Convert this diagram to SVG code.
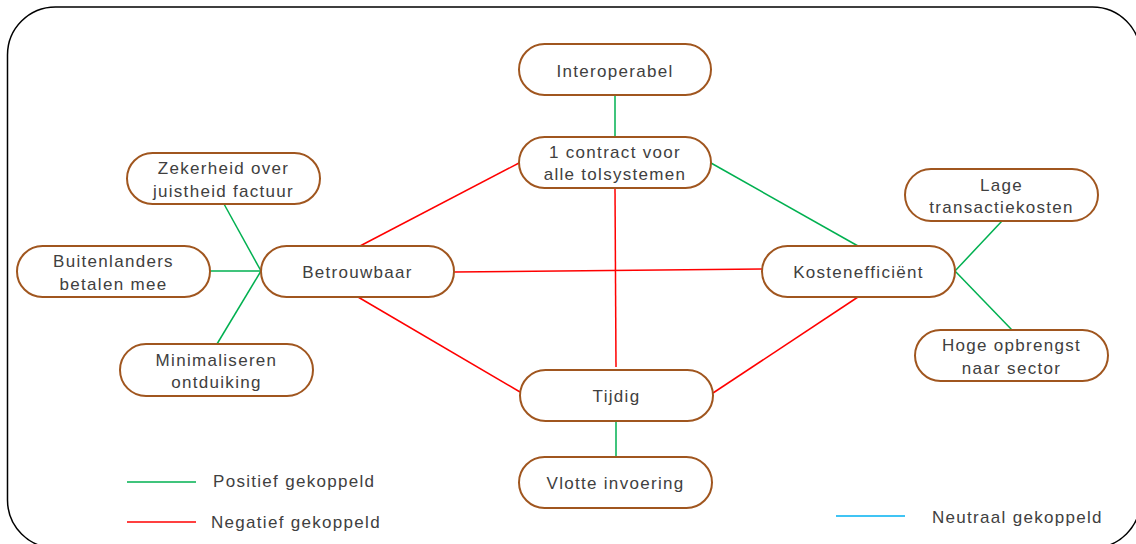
<svg xmlns="http://www.w3.org/2000/svg" width="1136" height="544" viewBox="0 0 1136 544">
<style>
.node rect{fill:#fff;stroke:#A0561F;stroke-width:2}
text{font-family:"Liberation Sans",Arial,sans-serif;font-size:17px;fill:#404040;letter-spacing:1.3px}
.c text,.node text{text-anchor:middle}
.pos{stroke:#00B050;stroke-width:1.5;fill:none}
.neg{stroke:#FF0000;stroke-width:1.5;fill:none}
.neu{stroke:#00B0F0;stroke-width:1.5;fill:none}
</style>
<rect x="7.5" y="7" width="1133" height="541" rx="48" ry="48" fill="#fff" stroke="#000" stroke-width="1.5"/>
<g id="connectors">
<line class="pos" x1="615" y1="95" x2="615" y2="137"/>
<line class="pos" x1="224" y1="204" x2="261" y2="271"/>
<line class="pos" x1="210" y1="271" x2="261" y2="271"/>
<line class="pos" x1="217" y1="344" x2="261" y2="271"/>
<line class="pos" x1="711" y1="163" x2="858" y2="246"/>
<line class="pos" x1="955" y1="271" x2="1002" y2="221"/>
<line class="pos" x1="955" y1="271" x2="1012" y2="330"/>
<line class="pos" x1="616" y1="421" x2="616" y2="457"/>
<line class="neg" x1="360" y1="246" x2="519" y2="163"/>
<line class="neg" x1="454" y1="272" x2="762" y2="269"/>
<line class="neg" x1="358" y1="297" x2="520" y2="392"/>
<line class="neg" x1="615" y1="188" x2="616" y2="367"/>
<line class="neg" x1="858" y1="297" x2="713" y2="393"/>
</g>
<g id="n-interoperabel" class="node"><rect x="519" y="44" width="192" height="51" rx="25.5"/><text x="615" y="77">Interoperabel</text></g>
<g id="n-contract" class="node"><rect x="519" y="137" width="192" height="51" rx="25.5"/><text x="615" y="158">1 contract voor</text><text x="615" y="180">alle tolsystemen</text></g>
<g id="n-zekerheid" class="node"><rect x="127" y="153" width="193" height="51" rx="25.5"/><text x="223.5" y="174">Zekerheid over</text><text x="223.5" y="196.5">juistheid factuur</text></g>
<g id="n-buitenlanders" class="node"><rect x="17" y="246" width="193" height="51" rx="25.5"/><text x="113.5" y="267">Buitenlanders</text><text x="113.5" y="289.5">betalen mee</text></g>
<g id="n-betrouwbaar" class="node"><rect x="261" y="246" width="193" height="51" rx="25.5"/><text x="357.5" y="278">Betrouwbaar</text></g>
<g id="n-minimaliseren" class="node"><rect x="120" y="344" width="193" height="52" rx="26"/><text x="216.5" y="365.5">Minimaliseren</text><text x="216.5" y="388">ontduiking</text></g>
<g id="n-kosten" class="node"><rect x="762" y="246" width="193" height="51" rx="25.5"/><text x="858.5" y="278">Kostenefficiënt</text></g>
<g id="n-lage" class="node"><rect x="905" y="169" width="193" height="52" rx="26"/><text x="1001.5" y="190.5">Lage</text><text x="1001.5" y="213">transactiekosten</text></g>
<g id="n-hoge" class="node"><rect x="915" y="330" width="193" height="51" rx="25.5"/><text x="1011.5" y="351">Hoge opbrengst</text><text x="1011.5" y="373.5">naar sector</text></g>
<g id="n-tijdig" class="node"><rect x="520" y="370" width="193" height="51" rx="25.5"/><text x="616.5" y="402">Tijdig</text></g>
<g id="n-vlotte" class="node"><rect x="519" y="457" width="193" height="51" rx="25.5"/><text x="615.5" y="489">Vlotte invoering</text></g>
<g id="legend">
<line class="pos" x1="127" y1="482" x2="196" y2="482"/>
<text x="213" y="487">Positief gekoppeld</text>
<line class="neg" x1="127" y1="522" x2="196" y2="522"/>
<text x="211" y="528">Negatief gekoppeld</text>
<line class="neu" x1="836" y1="516" x2="905" y2="516"/>
<text x="932" y="523">Neutraal gekoppeld</text>
</g>
</svg>
